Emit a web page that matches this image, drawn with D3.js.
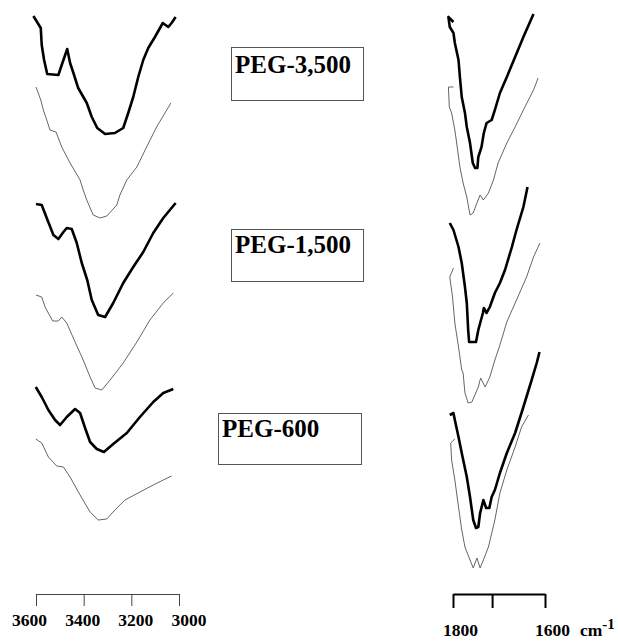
<!DOCTYPE html>
<html>
<head>
<meta charset="utf-8">
<script src="https://cdn.jsdelivr.net/npm/d3@7/dist/d3.min.js"></script>
<style>
  body { margin: 0; background: #fff; }
  text { font-family: "Liberation Serif", "Times New Roman", serif; font-weight: bold; }
</style>
</head>
<body>
<script>
// FTIR spectra, [wavenumber, stacked transmittance (a.u.)]
// left panel: O-H stretch region, right panel: C=O region
var ohBlack3500 = [[3611,58.4],[3580,57.2],[3576,55.5],[3566,54.0],[3553,52.6],[3506,52.5],[3495,53.3],[3469,55.1],[3457,53.7],[3443,52.7],[3423,51.2],[3387,49.7],[3366,48.3],[3343,47.2],[3310,46.6],[3269,46.7],[3234,47.2],[3213,48.7],[3192,50.3],[3171,52.3],[3150,54.0],[3129,55.2],[3101,56.3],[3068,57.7],[3045,57.3],[3031,57.7],[3014,58.3]];
var ohGray3500 = [[3600,51.3],[3580,50.0],[3569,49.0],[3541,47.0],[3516,46.8],[3492,45.3],[3457,43.7],[3415,42.0],[3402,41.0],[3387,40.0],[3360,38.5],[3331,38.2],[3303,38.4],[3261,39.5],[3248,40.5],[3219,42.0],[3177,43.3],[3136,45.3],[3094,47.3],[3034,49.7]];
var ohBlack1500 = [[3600,39.6],[3576,39.5],[3555,38.2],[3527,36.5],[3506,36.1],[3485,36.8],[3471,37.2],[3450,37.1],[3429,35.7],[3408,33.7],[3385,32.0],[3366,30.0],[3339,28.5],[3310,28.3],[3276,29.7],[3234,31.7],[3192,33.3],[3150,34.8],[3108,36.7],[3066,38.2],[3014,39.7]];
var ohGray1500 = [[3600,30.5],[3576,30.3],[3562,29.3],[3530,27.9],[3506,27.9],[3492,28.3],[3471,27.7],[3436,25.8],[3402,24.0],[3373,22.3],[3352,21.2],[3324,21.0],[3289,22.0],[3234,23.7],[3177,25.8],[3122,28.0],[3066,29.7],[3024,30.7]];
var ohBlack600 = [[3601,21.3],[3576,20.3],[3548,19.0],[3520,18.0],[3499,17.5],[3471,18.3],[3436,19.1],[3415,18.7],[3394,17.2],[3373,15.8],[3345,15.1],[3315,14.8],[3276,15.6],[3219,16.7],[3164,18.3],[3108,19.8],[3066,20.7],[3024,21.1]];
var ohGray600 = [[3601,16.1],[3576,15.7],[3548,14.3],[3513,13.4],[3485,13.3],[3457,12.3],[3415,10.5],[3373,8.8],[3339,8.0],[3303,8.1],[3269,9.0],[3227,10.0],[3164,10.8],[3108,11.5],[3066,12.0],[3031,12.4]];

var coBlack3500 = [[1799,57.8],[1810,58.3],[1807,57.3],[1799,56.7],[1796,55.7],[1788,54.0],[1785,52.3],[1781,50.3],[1774,48.7],[1770,47.3],[1763,45.7],[1757,43.7],[1752,43.2],[1747,43.2],[1745,44.3],[1738,45.3],[1733,46.7],[1727,47.7],[1716,48.0],[1709,49.0],[1698,50.7],[1683,52.3],[1665,54.3],[1647,56.3],[1625,58.6]];
var coGray3500 = [[1799,51.3],[1810,51.3],[1808,49.3],[1803,48.7],[1796,47.0],[1792,45.7],[1785,43.3],[1778,41.7],[1770,40.3],[1763,38.5],[1756,38.7],[1748,39.7],[1741,40.5],[1734,40.0],[1723,40.7],[1712,42.0],[1702,43.7],[1683,45.7],[1665,47.3],[1647,49.0],[1625,51.0],[1615,52.2]];
var coBlack1500 = [[1807,37.7],[1799,37.0],[1788,35.3],[1781,33.7],[1774,31.3],[1770,29.7],[1767,27.0],[1765,25.8],[1750,25.8],[1745,27.0],[1735,28.7],[1733,29.2],[1727,28.7],[1720,29.3],[1709,30.7],[1698,31.7],[1687,33.0],[1672,35.3],[1662,37.0],[1647,39.3],[1638,41.3]];
var coGray1500 = [[1799,33.2],[1807,32.3],[1801,30.3],[1796,27.7],[1788,25.3],[1781,23.0],[1778,22.7],[1774,20.7],[1767,19.7],[1759,19.8],[1745,21.3],[1740,22.2],[1730,21.3],[1720,22.3],[1709,24.0],[1698,25.5],[1683,27.8],[1662,30.0],[1640,32.3],[1625,34.3],[1611,35.7]];
var coBlack600 = [[1807,18.5],[1799,18.7],[1796,18.0],[1788,16.3],[1781,14.7],[1770,12.3],[1763,10.3],[1756,8.0],[1750,7.2],[1745,7.3],[1741,8.7],[1734,10.0],[1728,9.2],[1721,9.2],[1716,10.3],[1709,11.0],[1698,12.7],[1683,14.7],[1665,16.7],[1647,19.3],[1629,22.0],[1618,23.7],[1612,24.8]];
var coGray600 = [[1796,16.1],[1805,15.7],[1803,14.0],[1796,12.0],[1788,9.3],[1781,7.0],[1774,5.3],[1763,4.0],[1756,3.2],[1748,4.2],[1741,3.2],[1734,4.0],[1723,5.3],[1709,8.0],[1698,10.7],[1683,13.0],[1665,15.3],[1651,17.3],[1636,18.5]];

var samples = ["PEG-3,500", "PEG-1,500", "PEG-600"];
var leftTicks = [3600, 3400, 3200, 3000];
var rightTicks = [1800, 1715, 1600];
var rightTickLabels = ["1800", "", "1600"];
var unitLabel = "cm";
var unitPower = "-1";

window.onload = function() {

  var w = 618;
  var h = 641;

  var svg = d3.select("body")
              .append("svg")
              .attr("width", w)
              .attr("height", h);

  var xLeft = d3.scaleLinear().domain([3600, 3000]).range([36, 179]);
  var xRight = d3.scaleLinear().domain([1800, 1600]).range([453, 545]);
  var y = d3.scaleLinear().domain([0, 60]).range([600, 0]);

  var leftSeries = [
    {data: ohBlack3500, thick: true}, {data: ohGray3500, thick: false},
    {data: ohBlack1500, thick: true}, {data: ohGray1500, thick: false},
    {data: ohBlack600, thick: true},  {data: ohGray600, thick: false}
  ];
  var rightSeries = [
    {data: coBlack3500, thick: true}, {data: coGray3500, thick: false},
    {data: coBlack1500, thick: true}, {data: coGray1500, thick: false},
    {data: coBlack600, thick: true},  {data: coGray600, thick: false}
  ];

  drawSpectra(svg, leftSeries, xLeft, y);
  drawSpectra(svg, rightSeries, xRight, y);

  // sample labels in boxes
  var boxes = [
    {x: 231, y: 47, w: 132, h: 53, tx: 235, ty: 73},
    {x: 231, y: 229, w: 132, h: 52, tx: 235, ty: 253},
    {x: 218, y: 413, w: 143, h: 51, tx: 222, ty: 437}
  ];
  samples.forEach(function(s, i) {
    var b = boxes[i];
    svg.append("rect")
       .attr("x", b.x + 0.5).attr("y", b.y + 0.5)
       .attr("width", b.w).attr("height", b.h)
       .attr("fill", "none")
       .attr("stroke", "#555")
       .attr("stroke-width", 1);
    svg.append("text")
       .attr("x", b.tx).attr("y", b.ty)
       .attr("font-size", 25)
       .attr("fill", "#000")
       .text(s);
  });

  // left axis
  var gl = svg.append("g")
     .attr("transform", "translate(0,594)")
     .call(d3.axisBottom(xLeft).tickValues(leftTicks).tickSize(12).tickSizeOuter(0).tickFormat(""));
  gl.selectAll("path, line").attr("stroke", "#444").attr("stroke-width", 1);

  var leftLabelX = d3.scaleLinear().domain([3600, 3000]).range([29.5, 189]);
  svg.selectAll("text.lt")
     .data(leftTicks)
     .enter()
     .append("text")
     .attr("class", "lt")
     .attr("x", function(d) { return leftLabelX(d); })
     .attr("y", 626)
     .attr("text-anchor", "middle")
     .attr("font-size", 17.5)
     .text(function(d) { return d; });

  // right axis
  var gr = svg.append("g")
     .attr("transform", "translate(0,594)")
     .call(d3.axisBottom(xRight).tickValues(rightTicks).tickSize(14).tickSizeOuter(0).tickFormat(""));
  gr.selectAll("path, line").attr("stroke", "#000").attr("stroke-width", 2);

  svg.selectAll("text.rt")
     .data(rightTicks)
     .enter()
     .append("text")
     .attr("class", "rt")
     .attr("x", function(d) { return xRight(d) + 7.5; })
     .attr("y", 636)
     .attr("text-anchor", "middle")
     .attr("font-size", 17.5)
     .text(function(d, i) { return rightTickLabels[i]; });

  var unit = svg.append("text")
     .attr("x", 580)
     .attr("y", 636)
     .attr("font-size", 17.5);
  unit.append("tspan").text(unitLabel);
  unit.append("tspan").attr("dy", -7).attr("font-size", 15).text(unitPower);
};

function drawSpectra(svg, series, x, y) {
  var line = d3.line()
    .x(function(d) { return x(d[0]); })
    .y(function(d) { return y(d[1]); });

  svg.append("g")
     .selectAll("path")
     .data(series)
     .enter()
     .append("path")
     .attr("d", function(d) { return line(d.data); })
     .attr("fill", "none")
     .attr("stroke", function(d) { return d.thick ? "#000" : "#666"; })
     .attr("stroke-width", function(d) { return d.thick ? 2.6 : 1; })
     .attr("stroke-linejoin", "round");
}
</script>
</body>
</html>
